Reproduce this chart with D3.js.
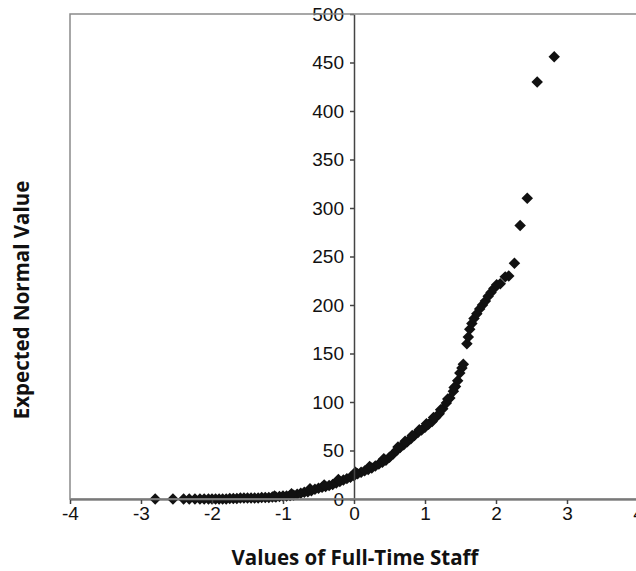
<!DOCTYPE html>
<html>
<head>
<meta charset="utf-8">
<script src="https://cdn.jsdelivr.net/npm/d3@7"></script>
<style>
  html, body { margin: 0; padding: 0; background: #fff; }
  svg { display: block; font-family: "Open Sans", sans-serif; }
  .qq-axis text { font-size: 19px; fill: #111; }
  .qq-title { font-size: 20.5px; font-weight: 700; fill: #111; }
</style>
</head>
<body>
<div id="chart"></div>
<script>
// Normal probability plot: theoretical quantile (x) against observed staff count (y),
// values read off the original figure.
const quantiles = [
  -2.80, -2.55, -2.40, -2.32, -2.24, -2.17, -2.11, -2.05, -2.00, -1.95,
  -1.90, -1.85, -1.80, -1.75, -1.70, -1.65, -1.60, -1.55, -1.50, -1.45,
  -1.40, -1.35, -1.30, -1.25, -1.20, -1.15, -1.10, -1.05, -1.00, -0.95,
  -0.90, -0.85, -0.80, -0.75, -0.70, -0.65, -0.60, -0.55, -0.50, -0.45,
  -0.40, -0.35, -0.30, -0.25, -0.20, -0.15, -0.10, -0.05, 0.00, 0.05,
  0.10, 0.15, 0.20, 0.25, 0.30, 0.35, 0.40, 0.45, 0.50, 0.55,
  0.60, 0.65, 0.70, 0.75, 0.80, 0.85, 0.90, 0.95, 1.00, 1.05,
  1.10, 1.15, 1.20, 1.25, 1.30, 1.35, 1.40, 1.43, 1.46, 1.49,
  1.52, 1.54, 1.59, 1.61, 1.63, 1.66, 1.69, 1.73, 1.77, 1.81,
  1.85, 1.89, 1.93, 1.97, 2.01, 2.06, 2.13, 2.18, 2.26, 2.34,
  2.44, 2.58, 2.82,
  // second row of readings along the thick middle band
  -1.12, -0.88, -0.62, -0.42, -0.22, 0.02, 0.22, 0.42, 0.62, 0.72,
  0.82, 0.92, 1.02, 1.12, 1.22, 1.32, 1.41
];
const staffValues = [
  0, 0, 0, 0, 0, 0, 0, 0, 0, 0,
  0, 0, 0, 0.5, 0.5, 0.5, 1, 1, 1, 1,
  1, 1, 1.5, 1.5, 1.5, 2, 2, 2.5, 3, 3,
  3.5, 4, 5, 6, 7, 7.5, 8.5, 10, 11, 12,
  13, 14, 15, 16.5, 18, 19.5, 21, 22.5, 24, 26,
  27.5, 29, 30.5, 32, 34, 36, 38, 40, 43, 46.5,
  50, 53, 56, 59, 62, 65.5, 68.5, 71, 74, 77,
  80, 84, 88, 93, 99, 104, 111, 116, 122, 130,
  135, 139, 160, 167, 175, 181, 186, 191, 196, 200,
  204, 209, 213, 217, 221, 222, 229, 230, 243, 282,
  310, 430, 456,
  3, 5.5, 10.5, 14.5, 20, 27.5, 33.5, 41.5, 53.5, 59.5,
  65.5, 71.5, 77.5, 84, 92, 103, 115
];
const xTicks = [-4, -3, -2, -1, 0, 1, 2, 3, 4];
const yTicks = [0, 50, 100, 150, 200, 250, 300, 350, 400, 450, 500];

const width = 636;
const height = 571;
const plot = { left: 70, right: 638, top: 14, bottom: 499 };

const points = quantiles.map((q, i) => ({ q, v: staffValues[i] }));

const x = d3.scaleLinear().domain([-4, 4]).range([plot.left, plot.right]);
const y = d3.scaleLinear().domain([0, 500]).range([plot.bottom, plot.top]);

const svg = d3.select('#chart')
  .append('svg')
  .attr('width', width)
  .attr('height', height);

// markers
const diamond = d3.symbol().type(d3.symbolSquare).size(66);
svg.append('g')
  .selectAll('path')
  .data(points)
  .join('path')
  .attr('d', diamond)
  .attr('transform', (d) => `translate(${x(d.q)},${y(d.v)}) rotate(45)`)
  .attr('fill', '#111');

// x axis crossing at y = 0
const xAxis = svg.append('g')
  .attr('class', 'qq-axis')
  .attr('transform', `translate(0,${y(0)})`)
  .call(d3.axisBottom(x).tickValues(xTicks).tickSizeInner(5).tickSizeOuter(0).tickPadding(3).tickFormat((d) => String(d)));
xAxis.select('.domain').attr('stroke', '#444').attr('stroke-width', 2);
xAxis.selectAll('.tick line').attr('stroke', '#444').attr('stroke-width', 1.5);

// y axis crossing at x = 0
const yAxis = svg.append('g')
  .attr('class', 'qq-axis')
  .attr('transform', `translate(${x(0)},0)`)
  .call(d3.axisLeft(y).tickValues(yTicks).tickSizeInner(4).tickSizeOuter(0).tickPadding(6));
yAxis.select('.domain').attr('stroke', '#444').attr('stroke-width', 1.5);
yAxis.selectAll('.tick line').attr('stroke', '#444').attr('stroke-width', 1.5);

// plot frame drawn last so it sits over the "500" label as in the source
svg.append('rect')
  .attr('x', plot.left)
  .attr('y', plot.top)
  .attr('width', plot.right - plot.left)
  .attr('height', plot.bottom - plot.top)
  .attr('fill', 'none')
  .attr('stroke', '#8a8a8a')
  .attr('stroke-width', 1.5);

svg.append('text')
  .attr('class', 'qq-title')
  .attr('x', 355)
  .attr('y', 565)
  .attr('text-anchor', 'middle')
  .text('Values of Full-Time Staff');

svg.append('text')
  .attr('class', 'qq-title')
  .attr('transform', 'translate(29,300) rotate(-90)')
  .attr('text-anchor', 'middle')
  .text('Expected Normal Value');
</script>
</body>
</html>
